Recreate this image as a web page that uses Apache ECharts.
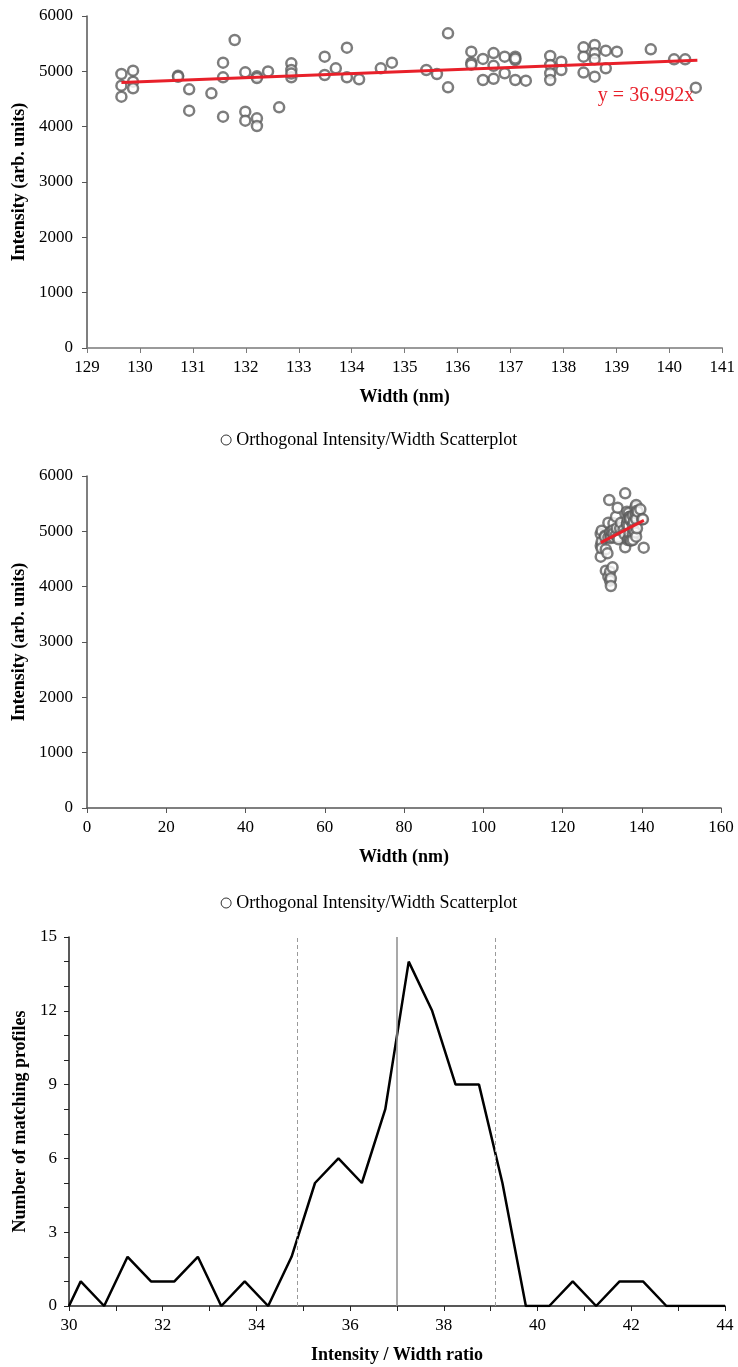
<!DOCTYPE html>
<html>
<head>
<meta charset="utf-8">
<script src="https://cdn.jsdelivr.net/npm/echarts@6/dist/echarts.min.js"></script>
<style>
  html, body { margin: 0; padding: 0; background: #fff; }
  #chart { width: 738px; height: 1367px; }
</style>
</head>
<body>
<div id="chart"></div>
<script>
// scatter: width (nm) / intensity pairs
const widths = [
  129.65, 129.65, 129.65, 129.87, 129.87, 129.87, 130.72, 130.72, 130.93, 130.93,
  131.35, 131.57, 131.57, 131.57, 131.79, 131.99, 131.99, 131.99, 132.21, 132.21,
  132.21, 132.21, 132.42, 132.63, 132.86, 132.86, 132.86, 132.86, 133.49, 133.49,
  133.70, 133.91, 133.91, 134.14, 134.55, 134.76, 135.41, 135.61, 135.82, 135.82,
  136.26, 136.26, 136.26, 136.48, 136.48, 136.68, 136.68, 136.68, 136.89, 136.89,
  137.09, 137.09, 137.09, 137.09, 137.29, 137.75, 137.75, 137.75, 137.75, 137.96,
  137.96, 138.38, 138.38, 138.38, 138.59, 138.59, 138.59, 138.59, 138.80, 138.80,
  139.01, 139.65, 140.09, 140.30, 140.50
];
const intensities = [
  4952, 4741, 4542, 5012, 4813, 4693, 4921, 4900, 4675, 4289,
  4603, 5157, 4892, 4181, 5566, 4982, 4271, 4108, 4910, 4880,
  4151, 4012, 4999, 4349, 5144, 5024, 4892, 4960, 5265, 4934,
  5054, 5428, 4892, 4856, 5054, 5157, 5024, 4952, 5687, 4711,
  5355, 5157, 5120, 5225, 4844, 5330, 5100, 4865, 5265, 4965,
  5265, 5205, 5230, 4844, 4832, 5277, 5115, 4965, 4844, 5175,
  5024, 5434, 5265, 4977, 5476, 5325, 5217, 4904, 5374, 5054,
  5355, 5398, 5217, 5217, 4705
];
const slope = 36.992;
const trendX = [129.65, 140.53];

// histogram of intensity / width ratio
const ratioX = [
  30, 30.25, 30.75, 31.25, 31.75, 32.25, 32.75, 33.25, 33.75, 34.25, 34.75,
  35.25, 35.75, 36.25, 36.75, 37.25, 37.75, 38.25, 38.75, 39.25, 39.75,
  40.25, 40.75, 41.25, 41.75, 42.25, 42.75, 43.25, 43.75, 44
];
const counts = [
  0, 1, 0, 2, 1, 1, 2, 0, 1, 0, 2,
  5, 6, 5, 8, 14, 12, 9, 9, 5, 0,
  0, 1, 0, 1, 1, 0, 0, 0, 0
];
const meanLine = 36.99;
const sdLines = [34.87, 39.1];

const seriesName = "Orthogonal Intensity/Width Scatterplot";
const font = "Liberation Serif";

const points = widths.map((w, i) => [w, intensities[i]]);
const trend = trendX.map((x) => [x, slope * x]);
const hist = ratioX.map((x, i) => [x, counts[i]]);

const axisCommon = (color, margin) => ({
  axisLine: { show: true, onZero: false, lineStyle: { color: color, width: 1.5 } },
  axisTick: { show: true, length: 5, lineStyle: { color: color, width: 1 } },
  splitLine: { show: false },
  axisLabel: {
    color: "#000", fontFamily: font, fontSize: 17, margin: margin,
    formatter: (v) => String(v),
  },
  nameTextStyle: { color: "#000", fontFamily: font, fontSize: 18, fontWeight: "bold" },
  nameLocation: "middle",
});

const scatterStyle = {
  type: "scatter",
  name: seriesName,
  symbol: "circle",
  symbolSize: 10,
  itemStyle: { color: "#ffffff", borderColor: "#5c5c5c", borderWidth: 2.5 },
  data: points,
  z: 3,
};

const trendStyle = {
  type: "line",
  symbol: "none",
  lineStyle: { color: "#e8202a", width: 3 },
  data: trend,
  z: 4,
};

const legendCommon = {
  left: "center",
  data: [seriesName],
  itemWidth: 10,
  itemHeight: 10,
  itemStyle: { color: "#fff", borderColor: "#000", borderWidth: 1 },
  textStyle: { color: "#000", fontFamily: font, fontSize: 18 },
  selectedMode: false,
};

const chart = echarts.init(document.getElementById("chart"));

chart.setOption({
  animation: false,
  backgroundColor: "#fff",
  grid: [
    { left: 87, right: 15, top: 16, height: 332 },
    { left: 87, right: 17, top: 476, height: 332 },
    { left: 69, right: 13, top: 937, height: 369 },
  ],
  legend: [
    Object.assign({ top: 426 }, legendCommon),
    Object.assign({ top: 889 }, legendCommon),
  ],
  xAxis: [
    Object.assign(axisCommon("#7a7a7a", 11), {
      gridIndex: 0, type: "value", min: 129, max: 141, interval: 1,
      name: "Width (nm)", nameGap: 40,
    }),
    Object.assign(axisCommon("#555", 11), {
      gridIndex: 1, type: "value", min: 0, max: 160, interval: 20,
      name: "Width (nm)", nameGap: 40,
    }),
    Object.assign(axisCommon("#222", 11), {
      gridIndex: 2, type: "value", min: 30, max: 44, interval: 1,
      name: "Intensity / Width ratio", nameGap: 40,
    }),
  ],
  yAxis: [
    Object.assign(axisCommon("#555", 14), {
      gridIndex: 0, type: "value", min: 0, max: 6000, interval: 1000,
      name: "Intensity (arb. units)", nameGap: 58,
    }),
    Object.assign(axisCommon("#555", 14), {
      gridIndex: 1, type: "value", min: 0, max: 6000, interval: 1000,
      name: "Intensity (arb. units)", nameGap: 58,
    }),
    Object.assign(axisCommon("#222", 12), {
      gridIndex: 2, type: "value", min: 0, max: 15, interval: 1,
      name: "Number of matching profiles", nameGap: 40,
    }),
  ],
  series: [
    Object.assign({}, scatterStyle, { xAxisIndex: 0, yAxisIndex: 0 }),
    Object.assign({}, trendStyle, { xAxisIndex: 0, yAxisIndex: 0 }),
    Object.assign({}, scatterStyle, { xAxisIndex: 1, yAxisIndex: 1 }),
    Object.assign({}, trendStyle, { xAxisIndex: 1, yAxisIndex: 1 }),
    {
      type: "line",
      xAxisIndex: 2,
      yAxisIndex: 2,
      symbol: "none",
      lineStyle: { color: "#000", width: 2.5 },
      data: hist,
      z: 4,
      markLine: {
        silent: true,
        symbol: "none",
        label: { show: false },
        data: [
          { xAxis: meanLine, lineStyle: { color: "#8c8c8c", width: 1.5, type: "solid" } },
        ].concat(sdLines.map((v) => ({
          xAxis: v, lineStyle: { color: "#9a9a9a", width: 1, type: [4, 3] },
        }))),
      },
    },
  ],
});

// odd ticks keep their mark but lose the label on the histogram axes
chart.setOption({
  xAxis: [{}, {}, { axisLabel: { formatter: (v) => (v % 2 === 0 ? String(v) : "") } }],
  yAxis: [{}, {}, { axisLabel: { formatter: (v) => (v % 3 === 0 ? String(v) : "") } }],
});

// trend equation next to the fitted line
const labelPos = chart.convertToPixel({ gridIndex: 0 }, [138.65, 4560]);
chart.setOption({
  graphic: [{
    type: "text",
    x: labelPos[0],
    y: labelPos[1],
    style: {
      text: "y = 36.992x",
      fill: "#e8202a",
      font: "20px 'Liberation Serif'",
      textVerticalAlign: "middle",
    },
  }],
});
</script>
</body>
</html>
